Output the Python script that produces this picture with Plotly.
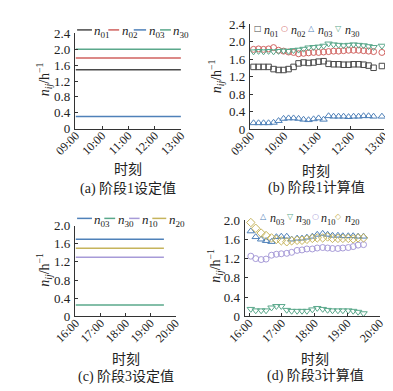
import plotly.graph_objects as go

W, H = 393, 391

# ---------------- data ----------------
# (a) stage 1 set values
set1_span = ["09:00", "13:00"]
set1_n01 = 1.48
set1_n02 = 1.78
set1_n03 = 0.31
set1_n30 = 2.00

# (b) stage 1 computed values
calc1_time = ["08:56", "09:05", "09:14", "09:23", "09:32", "09:41", "09:50", "09:59",
              "10:08", "10:17", "10:26", "10:35", "10:44", "10:53", "11:02", "11:11",
              "11:20", "11:29", "11:38", "11:47", "11:56", "12:05", "12:14", "12:23",
              "12:32", "12:41", "12:56"]
calc1_n01 = [1.42, 1.42, 1.42, 1.42, 1.42, 1.37, 1.35, 1.35, 1.37, 1.42, 1.50, 1.52, 1.51,
             1.52, 1.54, 1.55, 1.49, 1.48, 1.48, 1.47, 1.47, 1.48, 1.48, 1.47, 1.45, 1.40, 1.44]
calc1_n02 = [1.82, 1.82, 1.83, 1.82, 1.83, 1.86, 1.80, 1.78, 1.76, 1.75, 1.72, 1.73, 1.74,
             1.75, 1.75, 1.76, 1.77, 1.78, 1.78, 1.79, 1.80, 1.80, 1.80, 1.79, 1.78, 1.77, 1.75]
calc1_n03 = [0.14, 0.14, 0.14, 0.14, 0.14, 0.15, 0.19, 0.24, 0.25, 0.25, 0.24, 0.22, 0.21,
             0.23, 0.25, 0.22, 0.30, 0.29, 0.29, 0.29, 0.28, 0.29, 0.29, 0.30, 0.30, 0.29, 0.29]
calc1_n30 = [1.78, 1.77, 1.78, 1.77, 1.78, 1.77, 1.78, 1.79, 1.78, 1.80, 1.81, 1.83, 1.86,
             1.87, 1.88, 1.90, 1.95, 1.93, 1.92, 1.91, 1.92, 1.93, 1.92, 1.91, 1.89, 1.87, 1.90]

# (c) stage 3 set values
set3_span = ["16:00", "19:32"]
set3_n03 = 1.70
set3_n30 = 0.25
set3_n10 = 1.30
set3_n20 = 1.50

# (d) stage 3 computed values
calc3_time = ["16:03", "16:12", "16:22", "16:31", "16:41", "16:50", "16:59", "17:09",
              "17:18", "17:28", "17:37", "17:46", "17:56", "18:05", "18:15", "18:24",
              "18:33", "18:43", "18:52", "19:02", "19:11", "19:20", "19:30"]
calc3_n03 = [1.77, 1.65, 1.60, 1.57, 1.55, 1.65, 1.66, 1.66, 1.60, 1.62, 1.62, 1.64,
             1.66, 1.70, 1.72, 1.70, 1.68, 1.68, 1.67, 1.67, 1.67, 1.66, 1.66]
calc3_n30 = [0.15, 0.12, 0.12, 0.12, 0.18, 0.21, 0.21, 0.13, 0.11, 0.11, 0.11, 0.11,
             0.14, 0.17, 0.15, 0.13, 0.12, 0.12, 0.12, 0.12, 0.11, 0.09, 0.06]
calc3_n10 = [1.25, 1.20, 1.18, 1.19, 1.27, 1.29, 1.30, 1.31, 1.33, 1.37, 1.38, 1.40,
             1.40, 1.42, 1.43, 1.42, 1.41, 1.41, 1.42, 1.43, 1.45, 1.48, 1.49]
calc3_n20 = [1.95, 1.83, 1.73, 1.68, 1.63, 1.60, 1.57, 1.55, 1.57, 1.58, 1.58, 1.60,
             1.62, 1.63, 1.63, 1.65, 1.62, 1.62, 1.62, 1.62, 1.61, 1.63, 1.63]

ticks1 = ["09:00", "10:00", "11:00", "12:00", "13:00"]
ticks3 = ["16:00", "17:00", "18:00", "19:00", "20:00"]
yticks1 = ["0", "0.4", "0.8", "1.2", "1.6", "2.0", "2.4"]
yticks3 = ["0", "0.4", "0.8", "1.2", "1.6", "2.0"]

captions = ["(a) 阶段1设定值", "(b) 阶段1计算值", "(c) 阶段3设定值", "(d) 阶段3计算值"]
xtitle = "时刻"
ytitle = "<i>n</i><sub><i>ij</i></sub>/h<sup>−1</sup>"

# ---------------- style ----------------
C01 = "#4a4a4a"
C02 = "#d0625f"
C03 = "#4f81b9"
C30 = "#5aa88b"
C10 = "#a79bd8"
C20 = "#c6b45c"
SERIF = "Liberation Serif, Times New Roman, serif"
CJK = "Liberation Serif, Noto Sans CJK SC, serif"


def hrs(t):
    h, m = t.split(":")
    return int(h) + int(m) / 60.0


def px(x):
    return x / W


def py(y):
    return 1 - y / H


fig = go.Figure()


def line_trace(span, val, color, xa, ya):
    fig.add_trace(go.Scatter(x=[hrs(s) for s in span], y=[val] * len(span), mode="lines",
                             line=dict(color=color, width=1.5), xaxis=xa, yaxis=ya,
                             showlegend=False, hoverinfo="skip"))


def mark_trace(times, vals, color, symbol, xa, ya, size=5.5):
    fig.add_trace(go.Scatter(x=[hrs(t) for t in times], y=vals, mode="markers",
                             marker=dict(symbol=symbol, size=size, color=color,
                                         line=dict(color=color, width=1)),
                             xaxis=xa, yaxis=ya, showlegend=False, cliponaxis=False,
                             hoverinfo="skip"))


# (a)
line_trace(set1_span, set1_n01, C01, "x", "y")
line_trace(set1_span, set1_n02, C02, "x", "y")
line_trace(set1_span, set1_n03, C03, "x", "y")
line_trace(set1_span, set1_n30, C30, "x", "y")
# (b)
mark_trace(calc1_time, calc1_n01, C01, "square-open", "x2", "y2", 5.5)
mark_trace(calc1_time, calc1_n02, C02, "circle-open", "x2", "y2", 6)
mark_trace(calc1_time, calc1_n03, C03, "triangle-up-open", "x2", "y2", 6.5)
mark_trace(calc1_time, calc1_n30, C30, "triangle-down-open", "x2", "y2", 6.5)
# (c)
line_trace(set3_span, set3_n03, C03, "x3", "y3")
line_trace(set3_span, set3_n30, C30, "x3", "y3")
line_trace(set3_span, set3_n10, C10, "x3", "y3")
line_trace(set3_span, set3_n20, C20, "x3", "y3")
# (d)
mark_trace(calc3_time, calc3_n03, C03, "triangle-up-open", "x4", "y4", 6.5)
mark_trace(calc3_time, calc3_n30, C30, "triangle-down-open", "x4", "y4", 6.5)
mark_trace(calc3_time, calc3_n10, C10, "circle-open", "x4", "y4", 6)
mark_trace(calc3_time, calc3_n20, C20, "diamond-open", "x4", "y4", 6.5)

axis_common = dict(showline=True, linecolor="#333333", linewidth=1, ticks="inside",
                   ticklen=3, tickcolor="#333333", showgrid=False, zeroline=False)


def xax(l, r, t0, t1, labels, anchor):
    vals = [hrs(s) for s in labels]
    return dict(axis_common, domain=[px(l), px(r)], range=[t0, t1], tickvals=vals,
                ticktext=labels, tickangle=-45, anchor=anchor, ticklabelstandoff=-6,
                tickfont=dict(family=SERIF, size=12, color="#222222"))


def yax(b, t, top, labels, anchor):
    vals = [float(s) for s in labels]
    return dict(axis_common, domain=[py(b), py(t)], range=[0, top], tickvals=vals,
                ticktext=labels, anchor=anchor, ticklabelstandoff=1,
                tickfont=dict(family=SERIF, size=13, color="#222222"))


fig.update_layout(
    width=W, height=H, autosize=False,
    margin=dict(l=0, r=0, t=0, b=0),
    paper_bgcolor="white", plot_bgcolor="white",
    xaxis=xax(48.3, 162.5, 8.965, 13.0, ticks1, "y"),
    yaxis=yax(118.3, 19.0, 2.4, yticks1, "x"),
    xaxis2=xax(236.7, 381.3, 8.972, 13.0, ticks1, "y2"),
    yaxis2=yax(118.7, 9.3, 2.4, yticks1, "x2"),
    xaxis3=xax(48.3, 156.7, 15.963, 20.0, ticks3, "y3"),
    yaxis3=yax(313.3, 219.0, 2.0, yticks3, "x3"),
    xaxis4=xax(231.0, 376.7, 15.858, 20.0, ticks3, "y4"),
    yaxis4=yax(313.3, 213.3, 2.0, yticks3, "x4"),
)

ann = []
shapes = []


def text(x, y, s, size=13, family=SERIF, xanchor="center", angle=0, color="#222222"):
    ann.append(dict(x=px(x), y=py(y), xref="paper", yref="paper", text=s, showarrow=False,
                    xanchor=xanchor, yanchor="middle", textangle=angle,
                    font=dict(family=family, size=size, color=color)))


# axis titles and captions
for cx, ty, cy, cap in [(105, 161, 181, captions[0]), (308, 163, 180, captions[1]),
                        (103, 358, 376, captions[2]), (307, 358, 375, captions[3])]:
    text(cx, ty, xtitle, size=14, family=CJK)
    text(cx, cy, cap, size=14, family=CJK)
for yx, yy in [(16, 67), (200, 64), (15, 265), (199, 261)]:
    text(yx, yy, ytitle, size=14, angle=-90)


def leg_line(x0, x1, y, color):
    shapes.append(dict(type="line", xref="paper", yref="paper", x0=px(x0), x1=px(x1),
                       y0=py(y), y1=py(y), line=dict(color=color, width=1.5)))


def leg_label(x, y, sub, size=13):
    text(x, y, "<i>n</i><sub>" + sub + "</sub>", size=size, xanchor="left")


# legend (a)
for x0, x1, col, sub in [(50.7, 66.7, C01, "01"), (84.3, 96, C02, "02"),
                         (111.7, 125, C03, "03"), (140, 151.7, C30, "30")]:
    leg_line(x0, x1, 15.5, col)
    leg_label(x1 + 0.5, 17.5, sub)
# legend (c)
for x0, x1, col, sub in [(50.7, 66.7, C03, "03"), (80, 91.7, C30, "30"),
                         (106.7, 118, C10, "10"), (131.7, 146.7, C20, "20")]:
    leg_line(x0, x1, 211.5, col)
    leg_label(x1 + 0.5, 213.5, sub)


def leg_sym(x, y, glyph, col, sub, size=8):
    text(x, y, glyph, size=size, family="DejaVu Sans", color=col)
    leg_label(x + 4.5, y + 2, sub, size=12)


# legend (b)
for x, g, col, sub in [(245, "□", C01, "01"), (274.5, "○", C02, "02"),
                       (303, "△", C03, "03"), (332, "▽", C30, "30")]:
    leg_sym(x, 14.5, g, col, sub)
# legend (d)
for x, g, col, sub in [(251.7, "△", C03, "03"), (280, "▽", C30, "30"),
                       (307, "○", C10, "10"), (332.5, "◇", C20, "20")]:
    leg_sym(x, 210, g, col, sub)

fig.update_layout(annotations=ann, shapes=shapes)
fig.write_html("out.html")
